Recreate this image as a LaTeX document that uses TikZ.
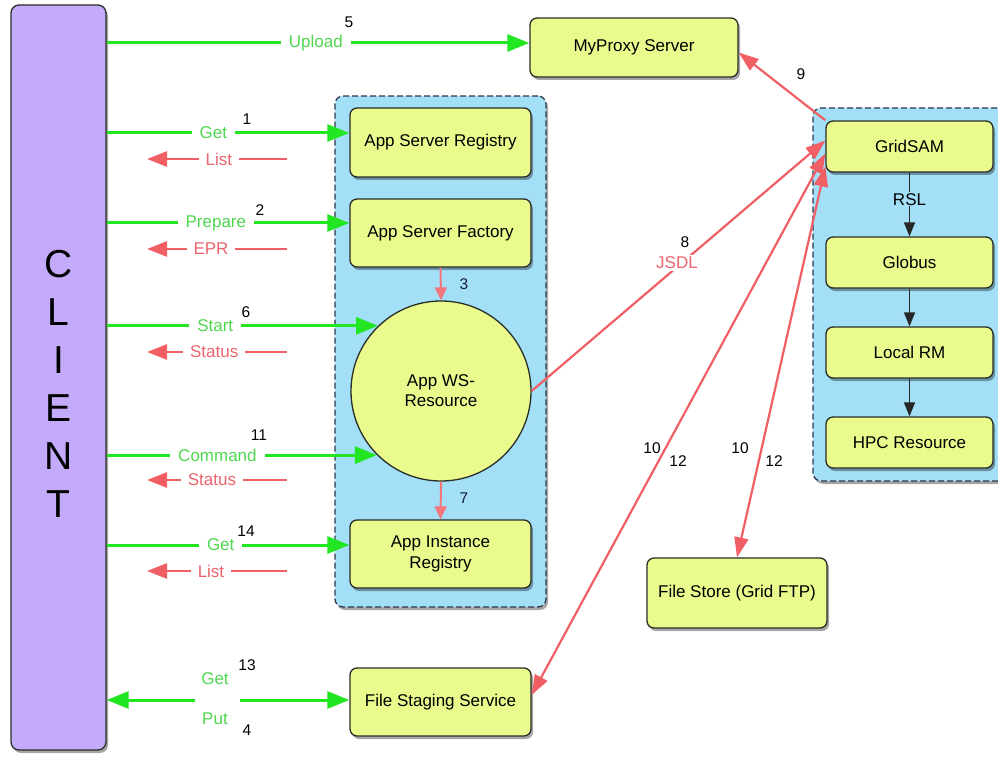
\documentclass[tikz,border=0pt]{standalone}
\usepackage{fontspec}
\setmainfont{Liberation Sans}
\usetikzlibrary{arrows.meta,shadows,calc}
\definecolor{clientfill}{RGB}{196,170,250}
\definecolor{boxfill}{RGB}{235,250,140}
\definecolor{contfill}{RGB}{163,224,248}
\definecolor{edge}{RGB}{40,45,40}
\definecolor{contedge}{RGB}{45,55,75}
\definecolor{arrgreen}{RGB}{34,230,34}
\definecolor{lblgreen}{RGB}{80,215,80}
\definecolor{arrpink}{RGB}{240,95,100}
\definecolor{lblpink}{RGB}{236,100,110}
\definecolor{navy}{RGB}{20,30,60}
\begin{document}
\begin{tikzpicture}[x=1pt,y=-1pt,
  shad/.style={drop shadow={shadow xshift=2pt,shadow yshift=-3pt,opacity=0.35,fill=black}},
  box/.style={draw=edge,line width=1.3pt,rounded corners=7pt,fill=boxfill,
    font=\fontsize{17}{20.5}\selectfont,align=center,inner sep=0pt,shad},
  cont/.style={draw=contedge,line width=1.3pt,dash pattern=on 6pt off 3pt,
    rounded corners=8pt,fill=contfill,shad},
  garrow/.style={draw=arrgreen,line width=3pt,-{Triangle[length=22pt,width=17pt]}},
  rarrow/.style={draw=arrpink,line width=2.5pt,-{Triangle[length=20pt,width=15pt]}},
  plink/.style={draw=arrpink,line width=2.2pt,-{Triangle[length=20pt,width=14pt]}},
  pboth/.style={draw=arrpink,line width=2.2pt,{Triangle[length=20pt,width=14pt]}-{Triangle[length=20pt,width=14pt]}},
  psmall/.style={draw=arrpink!85,line width=2pt,-{Triangle[length=13pt,width=12pt]}},
  barrow/.style={draw=black!85,line width=1.5pt,-{Triangle[length=14pt,width=11pt]}},
  glabel/.style={fill=white,text=lblgreen,font=\fontsize{17}{20}\selectfont,inner xsep=8pt,inner ysep=1pt},
  rlabel/.style={fill=white,text=lblpink,font=\fontsize{17}{20}\selectfont,inner xsep=7pt,inner ysep=1pt},
  num/.style={font=\fontsize{15.5}{18}\selectfont,text=black,inner sep=0pt},
  ]
\useasboundingbox (0,0) rectangle (998,759);
% containers
\node[cont,minimum width=211pt,minimum height=511pt] (c1) at (440.5,351.5) {};
\node[cont,minimum width=210pt,minimum height=373pt] (c2) at (918,294.5) {};
% client
\node[draw=edge,line width=1.3pt,rounded corners=8pt,fill=clientfill,shad,
  minimum width=95pt,minimum height=745pt] (client) at (58.5,377.5) {};
\node[font=\fontsize{39}{48}\selectfont,align=center,inner sep=0pt] (clientlbl) at (58.5,384) {C\\L\\I\\E\\N\\T};
% boxes
\node[box,minimum width=208pt,minimum height=59pt] (mp) at (634,47.5) {MyProxy Server};
\node[box,minimum width=181pt,minimum height=69pt] (asr) at (440.5,142.5) {App Server Registry};
\node[box,minimum width=181pt,minimum height=68pt] (asf) at (440.5,233) {App Server Factory};
\node[draw=edge,line width=1.3pt,fill=boxfill,circle,minimum size=180pt,inner sep=0pt,
  font=\fontsize{17}{20}\selectfont,align=center] (ws) at (441,391) {App WS-\\Resource};
\node[box,minimum width=181pt,minimum height=68pt] (air) at (440.5,554) {App Instance\\Registry};
\node[box,minimum width=181pt,minimum height=68pt] (fss) at (440.5,702) {File Staging Service};
\node[box,minimum width=180pt,minimum height=70pt] (fst) at (737,593) {File Store (Grid FTP)};
\node[box,minimum width=167pt,minimum height=51pt] (gs) at (909.5,146.5) {GridSAM};
\node[box,minimum width=167pt,minimum height=51pt] (glo) at (909.5,262.5) {Globus};
\node[box,minimum width=167pt,minimum height=51pt] (lrm) at (909.5,352.5) {Local RM};
\node[box,minimum width=167pt,minimum height=51pt] (hpc) at (909.5,442.5) {HPC Resource};
% internal arrows
\draw[psmall] (asf.south) -- (ws.north);
\draw[psmall] (ws.south) -- (air.north);
\node[num,text=navy] (n3) at (464,284) {3};
\node[num,text=navy] (n7) at (464,498) {7};
\draw[barrow] (gs.south) -- node[pos=0.42,fill=contfill,inner sep=1pt,font=\fontsize{17}{20}\selectfont] (rsl) {RSL} (glo.north);
\draw[barrow] (glo.south) -- (lrm.north);
\draw[barrow] (lrm.south) -- (hpc.north);
% green request arrows
\draw[garrow] (client.east |- 0,43) -- node[glabel,pos=0.495] (lup) {Upload} (mp.west |- 0,43);
\node[num] (n5) at (349,22) {5};
\draw[garrow] (client.east |- 0,133) -- node[glabel,pos=0.44] (lget1) {Get} (asr.west |- 0,133);
\node[num] (n1) at (247,119) {1};
\draw[garrow] (client.east |- 0,223) -- node[glabel,pos=0.45] (lprep) {Prepare} (asf.west |- 0,223);
\node[num] (n2) at (260,210) {2};
\draw[garrow] (client.east |- ws.134.7) -- node[glabel,pos=0.40] (lstart) {Start} (ws.134.7);
\node[num] (n6) at (246,312) {6};
\draw[garrow] (client.east |- ws.225.3) -- node[glabel,pos=0.41] (lcmd) {Command} (ws.225.3);
\node[num] (n11) at (259,435) {11};
\draw[garrow] (client.east |- 0,545) -- node[glabel,pos=0.47] (lget14) {Get} (air.west |- 0,545);
\node[num] (n14) at (246,531) {14};
% get / put
\coordinate (gpl) at (195,700);
\coordinate (gpr) at (240,700);
\draw[garrow] (gpl) -- (client.east |- gpl);
\draw[garrow] (gpr) -- (fss.west |- gpr);
\node[text=lblgreen,font=\fontsize{17}{20}\selectfont] (lget13) at (215,679) {Get};
\node[text=lblgreen,font=\fontsize{17}{20}\selectfont] (lput) at (215,719) {Put};
\node[num] (n13) at (247,665) {13};
\node[num] (n4) at (247,730) {4};
% pink return arrows
\coordinate (r1s) at (287,159); \coordinate (r1e) at (147,159);
\draw[rarrow] (r1s) -- node[rlabel,pos=0.486] (llist1) {List} (r1e);
\coordinate (r2s) at (287,249); \coordinate (r2e) at (147,249);
\draw[rarrow] (r2s) -- node[rlabel,pos=0.543] (lepr) {EPR} (r2e);
\coordinate (r3s) at (287,352); \coordinate (r3e) at (147,352);
\draw[rarrow] (r3s) -- node[rlabel,pos=0.52] (lstat1) {Status} (r3e);
\coordinate (r4s) at (287,480); \coordinate (r4e) at (147,480);
\draw[rarrow] (r4s) -- node[rlabel,pos=0.536] (lstat2) {Status} (r4e);
\coordinate (r5s) at (287,571); \coordinate (r5e) at (147,571);
\draw[rarrow] (r5s) -- node[rlabel,pos=0.543] (llist2) {List} (r5e);
% grid links
\draw[plink] (ws.east) -- ([yshift=6pt]gs.west);
\node[rlabel,inner xsep=2pt,inner ysep=2pt] (ljsdl) at (677,263) {JSDL};
\node[num] (n8) at (685,242) {8};
\draw[plink] (gs.north west) -- ([yshift=-5pt]mp.east);
\node[num] (n9) at (801,74) {9};
\draw[pboth] ([yshift=7pt]fss.east) -- ([yshift=-7pt]gs.west);
\draw[pboth] (fst.north) -- ([yshift=-20pt]gs.west);
\node[num] (n10a) at (652,448) {10};
\node[num] (n12a) at (678,461) {12};
\node[num] (n10b) at (740,448) {10};
\node[num] (n12b) at (774,461) {12};
\end{tikzpicture}
\end{document}
